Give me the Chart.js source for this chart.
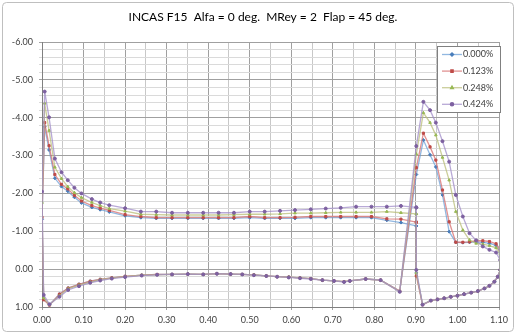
<!DOCTYPE html>
<html>
<head>
<meta charset="utf-8">
<script src="https://cdn.jsdelivr.net/npm/chart.js@4.4.1/dist/chart.umd.min.js"></script>
<style>
  body { margin: 0; background: #fff; }
  canvas { display: block; }
</style>
</head>
<body>
<canvas id="chartOne" width="516" height="334"></canvas>
<script>
// series
let seriesNames = ['0.000%', '0.123%', '0.248%', '0.424%'];
let lineColors = ['rgba(110,160,215,0.75)', 'rgba(215,110,110,0.75)', 'rgba(185,190,120,0.75)', 'rgba(160,140,200,0.75)'];
let markerColors = ['#4A7EBB', '#BE4B48', '#98B954', '#7D60A0'];
let markerStyles = ['rectRot', 'rect', 'triangle', 'circle'];

// main element, upper surface (leading edge -> trailing edge)
let xMainUpper = [0.0065, 0.017, 0.031, 0.047, 0.062, 0.078, 0.095, 0.12, 0.14, 0.162, 0.2, 0.238, 0.275, 0.313, 0.351, 0.388, 0.425, 0.462, 0.5, 0.536, 0.573, 0.609, 0.647, 0.683, 0.719, 0.756, 0.793, 0.83, 0.864, 0.901];
let cpUpper000 = [-3.76, -3.15, -2.40, -2.18, -2.06, -1.90, -1.75, -1.63, -1.57, -1.51, -1.41, -1.36, -1.34, -1.34, -1.34, -1.34, -1.34, -1.34, -1.36, -1.34, -1.34, -1.34, -1.36, -1.36, -1.36, -1.36, -1.36, -1.29, -1.23, -1.14];
let cpUpper123 = [-3.87, -3.26, -2.50, -2.24, -2.12, -1.95, -1.80, -1.68, -1.61, -1.55, -1.44, -1.39, -1.36, -1.36, -1.36, -1.36, -1.36, -1.36, -1.39, -1.36, -1.36, -1.37, -1.39, -1.39, -1.39, -1.39, -1.39, -1.33, -1.32, -1.24];
let cpUpper248 = [-4.38, -3.66, -2.69, -2.39, -2.18, -2.02, -1.89, -1.76, -1.68, -1.60, -1.53, -1.45, -1.44, -1.43, -1.43, -1.43, -1.43, -1.44, -1.45, -1.45, -1.46, -1.48, -1.48, -1.49, -1.50, -1.50, -1.50, -1.52, -1.49, -1.46];
let cpUpper424 = [-4.69, -4.01, -2.92, -2.56, -2.35, -2.15, -2.00, -1.85, -1.76, -1.69, -1.61, -1.52, -1.52, -1.49, -1.49, -1.49, -1.49, -1.49, -1.52, -1.52, -1.54, -1.56, -1.58, -1.60, -1.62, -1.65, -1.65, -1.65, -1.67, -1.63];

// main element, lower surface (leading edge -> trailing edge)
let xMainLower = [0.0, 0.004, 0.018, 0.042, 0.063, 0.089, 0.116, 0.14, 0.168, 0.2, 0.24, 0.277, 0.313, 0.351, 0.388, 0.421, 0.454, 0.482, 0.51, 0.54, 0.566, 0.594, 0.621, 0.647, 0.675, 0.703, 0.727, 0.741, 0.779, 0.815, 0.861];
let cpLower000 = [-1.32, 0.80, 0.94, 0.66, 0.50, 0.40, 0.32, 0.27, 0.23, 0.19, 0.16, 0.14, 0.14, 0.13, 0.14, 0.12, 0.13, 0.14, 0.15, 0.18, 0.20, 0.21, 0.23, 0.25, 0.29, 0.31, 0.33, 0.31, 0.26, 0.29, 0.58];
let cpLower123 = [-1.37, 0.81, 0.95, 0.66, 0.50, 0.40, 0.32, 0.27, 0.23, 0.19, 0.16, 0.14, 0.14, 0.13, 0.14, 0.12, 0.13, 0.14, 0.15, 0.18, 0.20, 0.21, 0.23, 0.25, 0.29, 0.31, 0.33, 0.31, 0.26, 0.29, 0.58];
let cpLower248 = [-1.76, 0.76, 0.94, 0.70, 0.52, 0.42, 0.34, 0.28, 0.24, 0.20, 0.16, 0.15, 0.14, 0.13, 0.14, 0.12, 0.13, 0.14, 0.15, 0.18, 0.20, 0.21, 0.23, 0.25, 0.29, 0.31, 0.33, 0.31, 0.26, 0.29, 0.59];
let cpLower424 = [-2.05, 0.68, 0.93, 0.73, 0.55, 0.45, 0.36, 0.30, 0.25, 0.21, 0.17, 0.15, 0.14, 0.13, 0.14, 0.12, 0.13, 0.14, 0.16, 0.18, 0.20, 0.22, 0.24, 0.26, 0.29, 0.31, 0.34, 0.31, 0.26, 0.29, 0.60];

// flap, upper surface (leading edge -> trailing edge)
let xFlapUpper = [0.901, 0.918, 0.934, 0.948, 0.964, 0.98, 0.996, 1.013, 1.029, 1.045, 1.061, 1.077, 1.093, 1.103];
let cpFlapUpper000 = [-2.50, -3.41, -3.02, -2.70, -1.96, -0.99, -0.71, -0.70, -0.71, -0.72, -0.71, -0.68, -0.63, -0.45];
let cpFlapUpper123 = [-2.68, -3.59, -3.23, -2.88, -2.09, -1.25, -0.71, -0.71, -0.72, -0.75, -0.75, -0.73, -0.67, -0.50];
let cpFlapUpper248 = [-3.04, -4.13, -3.87, -3.54, -2.95, -2.35, -1.52, -1.03, -0.77, -0.68, -0.66, -0.62, -0.56, -0.40];
let cpFlapUpper424 = [-3.25, -4.42, -4.20, -3.87, -3.38, -2.84, -1.96, -1.39, -0.95, -0.76, -0.60, -0.51, -0.44, -0.24];

// flap, lower surface (trailing edge -> leading edge)
let xFlapLower = [1.103, 1.097, 1.089, 1.077, 1.065, 1.049, 1.033, 1.016, 1.0, 0.984, 0.968, 0.952, 0.936, 0.916, 0.901];
let cpFlapLower000 = [0.02, 0.20, 0.33, 0.44, 0.51, 0.58, 0.62, 0.66, 0.70, 0.73, 0.77, 0.80, 0.83, 0.93, 0.10];
let cpFlapLower123 = [0.02, 0.20, 0.33, 0.44, 0.51, 0.58, 0.62, 0.66, 0.70, 0.73, 0.77, 0.80, 0.83, 0.94, 0.18];
let cpFlapLower248 = [0.02, 0.20, 0.33, 0.44, 0.51, 0.58, 0.62, 0.66, 0.70, 0.73, 0.77, 0.80, 0.83, 0.93, 0.10];
let cpFlapLower424 = [0.02, 0.20, 0.33, 0.44, 0.51, 0.58, 0.62, 0.66, 0.70, 0.73, 0.77, 0.80, 0.83, 0.94, 0.02];

let cpUpper = [cpUpper000, cpUpper123, cpUpper248, cpUpper424];
let cpLower = [cpLower000, cpLower123, cpLower248, cpLower424];
let cpFlapUpper = [cpFlapUpper000, cpFlapUpper123, cpFlapUpper248, cpFlapUpper424];
let cpFlapLower = [cpFlapLower000, cpFlapLower123, cpFlapLower248, cpFlapLower424];

// one closed path per series: main upper (TE->LE), main lower, flap upper, flap lower, back to main TE
function buildPath(i) {
    const pts = [];
    for (let k = xMainUpper.length - 1; k >= 0; k--) pts.push({x: xMainUpper[k], y: cpUpper[i][k]});
    for (let k = 0; k < xMainLower.length; k++) pts.push({x: xMainLower[k], y: cpLower[i][k]});
    for (let k = 0; k < xFlapUpper.length; k++) pts.push({x: xFlapUpper[k], y: cpFlapUpper[i][k]});
    for (let k = 0; k < xFlapLower.length; k++) pts.push({x: xFlapLower[k], y: cpFlapLower[i][k]});
    pts.push({x: xMainUpper[xMainUpper.length - 1], y: cpUpper[i][xMainUpper.length - 1]});
    return pts;
}

const isWhole = (v, step) => Math.abs(v / step - Math.round(v / step)) < 1e-6;
const tickFont = {family: 'Lato', size: 9};

// frame, title and legend
const decorPlugin = {
    id: 'decor',
    beforeDraw(chart) {
        const c = chart.ctx;
        c.save();
        c.fillStyle = '#fff';
        c.fillRect(0, 0, chart.width, chart.height);
        c.strokeStyle = '#BFBFBF';
        c.lineWidth = 1;
        c.beginPath();
        c.roundRect(2.5, 2.5, chart.width - 5, chart.height - 5, 4);
        c.stroke();
        c.fillStyle = '#000';
        c.font = '12px Lato';
        c.textAlign = 'center';
        c.textBaseline = 'middle';
        c.fillText('INCAS F15  Alfa = 0 deg.  MRey = 2  Flap = 45 deg.', 263, 17);
        c.restore();
    },
    afterDraw(chart) {
        const c = chart.ctx;
        c.save();
        c.fillStyle = '#fff';
        c.fillRect(437.5, 46.5, 63, 66);
        c.strokeStyle = '#808080';
        c.lineWidth = 1;
        c.strokeRect(437.5, 46.5, 63, 66);
        c.font = '9px Lato';
        c.textBaseline = 'middle';
        seriesNames.forEach((name, i) => {
            const y = 54.5 + i * 16.6;
            c.strokeStyle = lineColors[i];
            c.lineWidth = 1.3;
            c.beginPath();
            c.moveTo(442, y);
            c.lineTo(462, y);
            c.stroke();
            c.fillStyle = markerColors[i];
            c.strokeStyle = markerColors[i];
            Chart.helpers.drawPoint(c, {pointStyle: markerStyles[i], radius: 1.6, borderWidth: 1}, 452, y);
            c.fillStyle = '#404040';
            c.fillText(name, 463, y);
        });
        c.restore();
    }
};

var ctxOne = document.getElementById('chartOne').getContext('2d');
var chartOne = new Chart(ctxOne, {
    type: 'scatter',
    data: {
        datasets: seriesNames.map((name, i) => ({
            label: name,
            data: buildPath(i),
            showLine: true,
            borderColor: lineColors[i],
            borderWidth: 1.3,
            backgroundColor: markerColors[i],
            pointBackgroundColor: markerColors[i],
            pointBorderColor: markerColors[i],
            pointBorderWidth: 1,
            pointStyle: markerStyles[i],
            pointRadius: 1.5,
            order: 3 - i
        }))
    },
    options: {
        responsive: false,
        animation: false,
        devicePixelRatio: 1,
        layout: {padding: {left: 0, top: 42, right: 17, bottom: 0}},
        plugins: {
            legend: {display: false},
            title: {display: false},
            tooltip: {enabled: false}
        },
        scales: {
            x: {
                type: 'linear',
                min: 0,
                max: 1.1,
                afterFit: s => { s.height = 27; },
                border: {display: true, color: '#808080'},
                grid: {
                    color: ctx => isWhole(ctx.tick.value, 0.1) ? '#A0A0A0' : '#C8C8C8',
                    tickLength: 3
                },
                ticks: {
                    stepSize: 0.05,
                    autoSkip: false,
                    maxRotation: 0,
                    padding: 5,
                    color: '#404040',
                    font: tickFont,
                    callback: v => isWhole(v, 0.1) ? v.toFixed(2) : ''
                }
            },
            y: {
                type: 'linear',
                reverse: true,
                min: -6,
                max: 1,
                afterFit: s => { s.width = 42; },
                border: {display: true, color: '#808080'},
                grid: {
                    color: ctx => isWhole(ctx.tick.value, 1) ? '#A0A0A0' : '#DADADA',
                    tickLength: 3
                },
                ticks: {
                    stepSize: 0.2,
                    autoSkip: false,
                    padding: 6,
                    color: '#404040',
                    font: tickFont,
                    callback: v => isWhole(v, 1) ? v.toFixed(2) : ''
                }
            }
        }
    },
    plugins: [decorPlugin]
});
</script>
</body>
</html>
